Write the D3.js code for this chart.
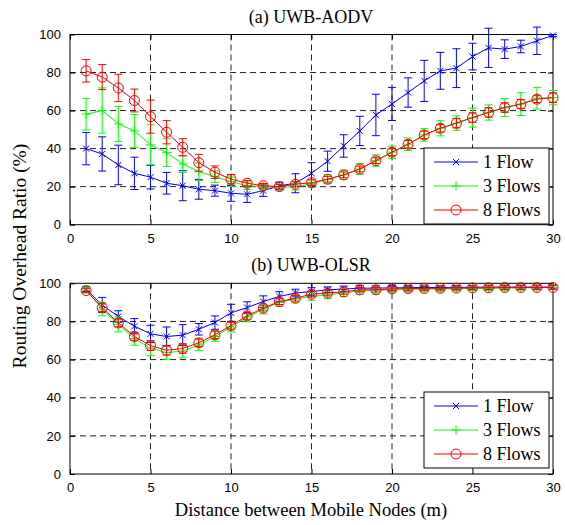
<!DOCTYPE html>
<html>
<head>
<meta charset="utf-8">
<script src="https://cdn.jsdelivr.net/npm/d3@7"></script>
<style>
  body { margin: 0; background: #fff; }
  svg { display: block; }
  .tick-label { font-family: "Liberation Sans", Arial, sans-serif; font-size: 13px; fill: #000; }
  .serif { font-family: "Liberation Serif", "Times New Roman", serif; fill: #000; }
</style>
</head>
<body>
<div id="chart"></div>
<script>
// Distancia entre nodos (m)
const distance = [1, 2, 3, 4, 5, 6, 7, 8, 9, 10, 11, 12, 13, 14, 15, 16, 17, 18, 19, 20, 21, 22, 23, 24, 25, 26, 27, 28, 29, 30];
const xTicks = [0, 5, 10, 15, 20, 25, 30];
const yTicks = [0, 20, 40, 60, 80, 100];
const seriesNames = ['1 Flow', '3 Flows', '8 Flows'];

// (a) UWB-AODV
const aodv1 = [40, 37.2, 31.4, 27, 25, 21.8, 20.5, 18.6, 17.9, 16.5, 16, 17.9, 20.4, 21.8, 27, 33.4, 41.4, 49.3, 57.7, 63.5, 69.5, 75.6, 80.9, 82.3, 88.4, 93, 92.3, 93.7, 96.7, 99.5];
const aodv1Err = [8.5, 9, 10.4, 8.5, 6.2, 5.7, 7.9, 5.2, 2.9, 4.2, 4.3, 3, 2, 5, 5.6, 5.3, 5.9, 7.7, 10.9, 8.7, 7.7, 10.8, 9.7, 10.2, 7, 10.3, 4.9, 3.3, 7.2, 0.5];
const aodv3 = [58.1, 60, 53, 49.3, 42, 37.9, 31.9, 27.9, 25.3, 22.6, 20.5, 20, 19.6, 20, 21.5, 23.9, 26.2, 29.3, 33.7, 38.1, 42.3, 47.2, 50.7, 53.4, 56.3, 59, 61.6, 63.4, 66.5, 66.8];
const aodv3Err = [8.3, 11.9, 9.2, 8.6, 10.5, 7.3, 4.4, 4.6, 3, 2.5, 2, 1.5, 1.5, 1.8, 2, 2.3, 2.5, 2.8, 3, 3.2, 3.3, 3.3, 4, 3.8, 5, 4, 4.8, 6, 5.7, 3.8];
const aodv8 = [80.9, 77.6, 71.9, 65.3, 56.8, 48.6, 40.7, 32.6, 27.6, 23.9, 21.8, 20.5, 20, 21.3, 22.1, 23.9, 26.2, 29.3, 33.7, 38.1, 42.3, 47.2, 50.7, 53.4, 56.3, 59, 61.6, 63.4, 66, 66.8];
const aodv8Err = [5.9, 6.6, 7.2, 6, 8.7, 6.1, 4.5, 4.4, 3.3, 2.5, 1.5, 1.2, 1.2, 1.3, 1.5, 1.5, 1.5, 1.5, 1.5, 1.8, 2, 2, 2, 2.5, 2.5, 2.5, 2.5, 2.4, 1.8, 2.5];

// (b) UWB-OLSR
const olsr1 = [97, 88.6, 82.6, 77.5, 73.5, 72.1, 72.8, 75.9, 79.4, 84.5, 87.3, 90.4, 93.1, 94.9, 95.7, 96.6, 97, 97.4, 97.5, 97.6, 97.7, 97.8, 97.8, 97.9, 97.9, 98, 98, 98, 98, 98];
const olsr1Err = [1.2, 4, 3, 4, 4.5, 5, 5.5, 3, 3.5, 4.5, 3, 3, 2.5, 2, 2, 1.5, 1.5, 1.5, 1.2, 1.2, 1.2, 1.2, 1, 1, 1, 1, 1, 1, 1, 1];
const olsr3 = [96.5, 86.5, 78.5, 71, 66, 63.7, 64.4, 67.7, 72.1, 77, 82.3, 86.5, 90, 91.8, 93.1, 94, 95, 96, 96.2, 96.8, 96.9, 97, 97.1, 97.2, 97.3, 97.4, 97.5, 97.6, 97.7, 97.8];
const olsr3Err = [1.5, 3.5, 4, 3.5, 4, 3.5, 3.5, 3, 2.5, 2.5, 2.5, 2.5, 2, 2, 2, 2, 2, 1.8, 1.8, 1.5, 1.5, 1.5, 1.5, 1.2, 1.2, 1.2, 1.2, 1.2, 1.2, 1];
const olsr8 = [96.2, 87.2, 79.2, 72.1, 67.3, 64.9, 65.8, 68.8, 73, 77.8, 82.9, 87, 90.4, 92.2, 94.3, 94.9, 95.5, 96.6, 96.6, 97.1, 97.2, 97.3, 97.4, 97.5, 97.6, 97.7, 97.8, 97.8, 97.8, 97.8];
const olsr8Err = [1, 2, 2, 2, 2.5, 2.5, 2.5, 2, 2, 1.8, 1.8, 1.5, 1.5, 1.5, 1.5, 1.5, 1.2, 1.2, 1.2, 1.2, 1.2, 1, 1, 1, 1, 1, 1, 1, 1, 1];

const colors = ['#0000ff', '#00ff00', '#ff0000'];
const markers = ['x', 'plus', 'circle'];

const width = 565;
const height = 525;

const svg = d3.select('#chart').append('svg')
  .attr('width', width)
  .attr('height', height);

const xScale = d3.scaleLinear().domain([0, 30]).range([70, 553]);

// Dibuja un marcador en (cx, cy)
function drawMarker(g, type, cx, cy, color) {
  if (type === 'x') {
    const s = 3;
    g.append('path')
      .attr('d', `M${cx - s},${cy - s}L${cx + s},${cy + s}M${cx - s},${cy + s}L${cx + s},${cy - s}`)
      .attr('stroke', color).attr('stroke-width', 1).attr('fill', 'none');
  } else if (type === 'plus') {
    const s = 4.5;
    g.append('path')
      .attr('d', `M${cx - s},${cy}L${cx + s},${cy}M${cx},${cy - s}L${cx},${cy + s}`)
      .attr('stroke', color).attr('stroke-width', 1).attr('fill', 'none');
  } else {
    g.append('circle')
      .attr('cx', cx).attr('cy', cy).attr('r', 5)
      .attr('stroke', color).attr('stroke-width', 1).attr('fill', 'none');
  }
}

// Función para dibujar un panel
function drawPanel(title, top, bottom, series, legendTop) {
  const yScale = d3.scaleLinear().domain([0, 100]).range([bottom, top]);
  const g = svg.append('g');

  // Rejilla discontinua
  g.selectAll('.vgrid')
    .data(xTicks.filter(d => d > 0 && d < 30))
    .enter().append('line')
    .attr('x1', d => xScale(d)).attr('x2', d => xScale(d))
    .attr('y1', top).attr('y2', bottom)
    .attr('stroke', '#222').attr('stroke-width', 1)
    .attr('stroke-dasharray', '6,4');
  g.selectAll('.hgrid')
    .data(yTicks.filter(d => d > 0 && d < 100))
    .enter().append('line')
    .attr('x1', xScale(0)).attr('x2', xScale(30))
    .attr('y1', d => yScale(d)).attr('y2', d => yScale(d))
    .attr('stroke', '#222').attr('stroke-width', 1)
    .attr('stroke-dasharray', '6,4');

  // Ejes (ticks hacia dentro, estilo MATLAB)
  g.append('g')
    .attr('transform', `translate(0,${bottom})`)
    .call(d3.axisBottom(xScale).tickValues(xTicks).tickSizeInner(-5).tickSizeOuter(0).tickPadding(9))
    .call(a => a.select('.domain').remove())
    .call(a => a.selectAll('text').attr('class', 'tick-label').attr('font-size', null).attr('font-family', null));
  g.append('g')
    .attr('transform', `translate(0,${top})`)
    .call(d3.axisTop(xScale).tickValues(xTicks).tickSizeInner(-5).tickSizeOuter(0).tickFormat(''))
    .call(a => a.select('.domain').remove());
  g.append('g')
    .attr('transform', `translate(${xScale(0)},0)`)
    .call(d3.axisLeft(yScale).tickValues(yTicks).tickSizeInner(-5).tickSizeOuter(0).tickPadding(9))
    .call(a => a.select('.domain').remove())
    .call(a => a.selectAll('text').attr('class', 'tick-label').attr('font-size', null).attr('font-family', null));
  g.append('g')
    .attr('transform', `translate(${xScale(30)},0)`)
    .call(d3.axisRight(yScale).tickValues(yTicks).tickSizeInner(-5).tickSizeOuter(0).tickFormat(''))
    .call(a => a.select('.domain').remove());

  g.append('rect')
    .attr('x', xScale(0)).attr('y', top)
    .attr('width', xScale(30) - xScale(0)).attr('height', bottom - top)
    .attr('fill', 'none').attr('stroke', '#000').attr('stroke-width', 1);

  // Series con barras de error
  const line = d3.line()
    .x(d => xScale(d.x))
    .y(d => yScale(d.y));

  series.forEach((s, i) => {
    const pts = distance.map((x, j) => ({ x, y: s.values[j], e: s.err[j] }));
    const sg = g.append('g');
    pts.forEach(p => {
      const cx = xScale(p.x);
      const y1 = yScale(p.y + p.e);
      const y2 = yScale(p.y - p.e);
      sg.append('path')
        .attr('d', `M${cx},${y1}L${cx},${y2}M${cx - 4},${y1}L${cx + 4},${y1}M${cx - 4},${y2}L${cx + 4},${y2}`)
        .attr('stroke', colors[i]).attr('stroke-width', 1).attr('fill', 'none');
    });
    sg.append('path')
      .attr('d', line(pts))
      .attr('fill', 'none')
      .attr('stroke', colors[i])
      .attr('stroke-width', 1);
    pts.forEach(p => drawMarker(sg, markers[i], xScale(p.x), yScale(p.y), colors[i]));
  });

  // Título del panel
  svg.append('text')
    .attr('class', 'serif')
    .attr('x', 311).attr('y', top - 12)
    .attr('text-anchor', 'middle')
    .style('font-size', '18px')
    .text(title);

  // Leyenda
  const lx = 424;
  const legend = svg.append('g');
  legend.append('rect')
    .attr('x', lx).attr('y', legendTop)
    .attr('width', 125).attr('height', 76)
    .attr('fill', '#fff').attr('stroke', '#000').attr('stroke-width', 1);
  seriesNames.forEach((name, i) => {
    const ly = legendTop + 14 + i * 24;
    legend.append('line')
      .attr('x1', lx + 10).attr('x2', lx + 54)
      .attr('y1', ly).attr('y2', ly)
      .attr('stroke', colors[i]).attr('stroke-width', 1);
    drawMarker(legend, markers[i], lx + 32, ly, colors[i]);
    legend.append('text')
      .attr('class', 'serif')
      .attr('x', lx + 59).attr('y', ly + 6)
      .style('font-size', '18px')
      .text(name);
  });
}

drawPanel('(a) UWB-AODV', 34.5, 224.7, [
  { values: aodv1, err: aodv1Err },
  { values: aodv3, err: aodv3Err },
  { values: aodv8, err: aodv8Err }
], 148);

drawPanel('(b) UWB-OLSR', 283.3, 474, [
  { values: olsr1, err: olsr1Err },
  { values: olsr3, err: olsr3Err },
  { values: olsr8, err: olsr8Err }
], 392);

// Etiquetas de los ejes
svg.append('text')
  .attr('class', 'serif')
  .attr('transform', 'translate(26,256) rotate(-90)')
  .attr('text-anchor', 'middle')
  .style('font-size', '19.5px')
  .text('Routing Overhead Ratio (%)');

svg.append('text')
  .attr('class', 'serif')
  .attr('x', 311).attr('y', 516)
  .attr('text-anchor', 'middle')
  .style('font-size', '18.5px')
  .text('Distance between Mobile Nodes (m)');
</script>
</body>
</html>
